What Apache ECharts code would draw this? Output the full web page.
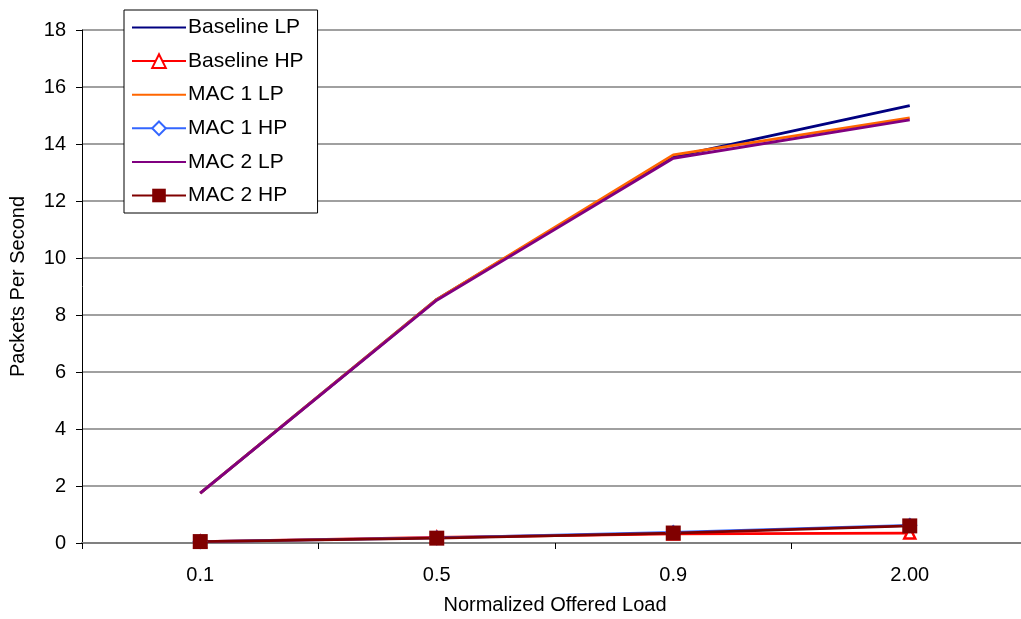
<!DOCTYPE html>
<html>
<head>
<meta charset="utf-8">
<script src="https://cdn.jsdelivr.net/npm/echarts@6/dist/echarts.min.js"></script>
<style>
  html, body { margin: 0; padding: 0; background: #fff; }
  #chart { width: 1021px; height: 619px; }
</style>
</head>
<body>
<div id="chart"></div>
<script>
// 横轴类别
var loads = ['0.1', '0.5', '0.9', '2.00'];
// 纵轴刻度
var yMin = 0, yMax = 18, yStep = 2;

// 各系列数值
var baselineLP = [1.75, 8.55, 13.55, 15.35];
var baselineHP = [0.05, 0.2, 0.32, 0.35];
var mac1LP = [1.75, 8.55, 13.62, 14.92];
var mac1HP = [0.05, 0.18, 0.37, 0.62];
var mac2LP = [1.75, 8.52, 13.5, 14.85];
var mac2HP = [0.05, 0.17, 0.35, 0.6];

var chart = echarts.init(document.getElementById('chart'));

var font = 'Liberation Sans, Arial, sans-serif';

function lineSeries(name, data, color, extra) {
    var s = {
        name: name,
        type: 'line',
        data: data,
        symbol: 'none',
        lineStyle: { color: color, width: 2.8 },
        itemStyle: { color: color },
        emphasis: { disabled: true }
    };
    for (var k in extra) s[k] = extra[k];
    return s;
}

// 无标记的系列在图例里只画线
function plainItem(name) {
    return { name: name, itemStyle: { opacity: 0 } };
}

var option = {
    animation: false,
    backgroundColor: '#fff',
    textStyle: { fontFamily: font },
    grid: {
        left: 82,
        width: 946,
        top: 30,
        bottom: 76,
        outerBoundsMode: 'none',
        containLabel: false
    },
    legend: {
        orient: 'vertical',
        left: 124,
        top: 10,
        itemWidth: 54,
        itemHeight: 17,
        itemGap: 12.6,
        padding: [7, 14, 7, 7],
        borderColor: '#000',
        borderWidth: 1,
        backgroundColor: '#fff',
        textStyle: { fontFamily: font, fontSize: 21, color: '#000', padding: [0, 0, 0, -3] },
        data: [
            plainItem('Baseline LP'),
            'Baseline HP',
            plainItem('MAC 1 LP'),
            'MAC 1 HP',
            plainItem('MAC 2 LP'),
            'MAC 2 HP'
        ]
    },
    xAxis: {
        type: 'category',
        data: loads,
        boundaryGap: true,
        name: 'Normalized Offered Load',
        nameLocation: 'middle',
        nameGap: 52,
        nameTextStyle: { fontFamily: font, fontSize: 20, color: '#000' },
        axisLine: { lineStyle: { color: '#808080', width: 2 } },
        axisTick: { show: true, length: 6, inside: false, lineStyle: { color: '#000' } },
        axisLabel: { fontFamily: font, fontSize: 20, color: '#000', margin: 22 },
        splitLine: { show: false }
    },
    yAxis: {
        type: 'value',
        min: yMin,
        max: yMax,
        interval: yStep,
        name: 'Packets Per Second',
        nameLocation: 'middle',
        nameGap: 54,
        nameRotate: 90,
        nameTextStyle: { fontFamily: font, fontSize: 20, color: '#000' },
        axisLine: { show: true, lineStyle: { color: '#000', width: 1 } },
        axisTick: { show: true, length: 6, lineStyle: { color: '#000' } },
        axisLabel: { fontFamily: font, fontSize: 20, color: '#000', margin: 16 },
        splitLine: { show: true, lineStyle: { color: '#808080', width: 1.5 } }
    },
    series: [
        lineSeries('Baseline LP', baselineLP, '#000080', {}),
        lineSeries('Baseline HP', baselineHP, '#ff0000', {
            symbol: 'triangle',
            symbolSize: 11,
            itemStyle: { color: '#fff', borderColor: '#ff0000', borderWidth: 2.5 }
        }),
        lineSeries('MAC 1 LP', mac1LP, '#ff6600', {}),
        lineSeries('MAC 1 HP', mac1HP, '#3366ff', {
            symbol: 'diamond',
            symbolSize: 13,
            itemStyle: { color: '#fff', borderColor: '#3366ff', borderWidth: 2 }
        }),
        lineSeries('MAC 2 LP', mac2LP, '#800080', {}),
        lineSeries('MAC 2 HP', mac2HP, '#800000', {
            symbol: 'rect',
            symbolSize: 15,
            itemStyle: { color: '#800000' }
        })
    ]
};

chart.setOption(option);
</script>
</body>
</html>
